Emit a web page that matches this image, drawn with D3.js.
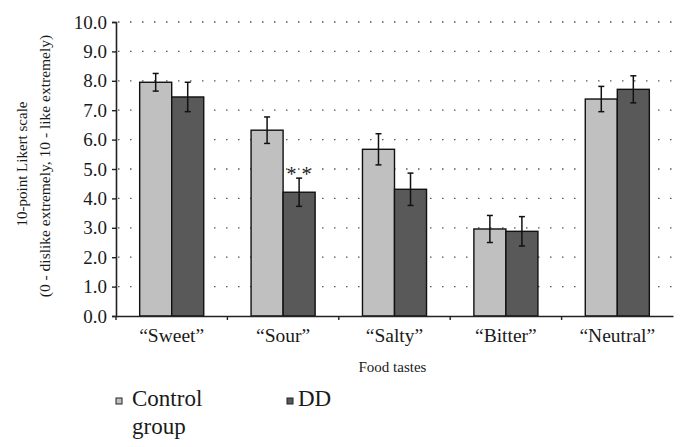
<!DOCTYPE html>
<html><head><meta charset="utf-8">
<script src="https://cdn.jsdelivr.net/npm/d3@7"></script>
<style>body{margin:0;background:#fff}svg{display:block}svg text{font-family:"Liberation Serif",serif;fill:#1a1a1a}</style>
</head><body><svg id="c" width="689" height="447" font-family="Liberation Serif"></svg>
<script>
const categories = ["\u201cSweet\u201d","\u201cSour\u201d","\u201cSalty\u201d","\u201cBitter\u201d","\u201cNeutral\u201d"];
const seriesNames = ["Control group","DD"];
const controlValues = [7.95, 6.32, 5.67, 2.96, 7.38];
const controlErrors = [0.30, 0.45, 0.53, 0.46, 0.43];
const ddValues = [7.45, 4.21, 4.31, 2.88, 7.71];
const ddErrors = [0.50, 0.48, 0.55, 0.50, 0.46];
const yTicks = [0,1,2,3,4,5,6,7,8,9,10];
const annotations = [{cat:1, series:1, text:"* *"}];
const colors = ["#c0c0c0","#595959"];

const svg = d3.select("#c");
const SERIF = '"Liberation Serif", serif';
const L=116, R=673, T=22, B=316;
const x = d3.scaleBand().domain(categories).range([L,R]);
const y = d3.scaleLinear().domain([0,10]).range([B,T]);
const barW = x.bandwidth()*0.2875;

svg.append("g").selectAll("line").data(yTicks.filter(d=>d>0)).join("line")
  .attr("x1",L+2).attr("x2",R).attr("y1",d=>y(d)).attr("y2",d=>y(d))
  .attr("stroke","#555").attr("stroke-width",1.3).attr("stroke-dasharray","1.5,10.5");

const series = [
  {vals:controlValues, errs:controlErrors},
  {vals:ddValues, errs:ddErrors}
];
series.forEach((s,si)=>{
  const g = svg.append("g");
  const data = categories.map((c,i)=>({c,v:s.vals[i],e:s.errs[i]}));
  const bx = d=>x(d.c)+x.bandwidth()/2 + (si===0?-barW:0);
  g.selectAll("rect").data(data).join("rect")
    .attr("x",bx).attr("width",barW)
    .attr("y",d=>y(d.v)).attr("height",d=>B-y(d.v))
    .attr("fill",colors[si]).attr("stroke","#111").attr("stroke-width",1.4);
  const eg = g.selectAll("g.err").data(data).join("g").attr("class","err");
  const cx = d=>bx(d)+barW/2;
  eg.append("line").attr("x1",cx).attr("x2",cx).attr("y1",d=>y(d.v+d.e)).attr("y2",d=>y(d.v-d.e))
    .attr("stroke","#111").attr("stroke-width",1.5);
  [1,-1].forEach(sg=>{
    eg.append("line").attr("x1",d=>cx(d)-3).attr("x2",d=>cx(d)+3)
      .attr("y1",d=>y(d.v+sg*d.e)).attr("y2",d=>y(d.v+sg*d.e))
      .attr("stroke","#111").attr("stroke-width",1.5);
  });
});

function serif(sel){ return sel.attr("font-family","Liberation Serif").style("font-family",SERIF); }

annotations.forEach(a=>{
  const s = series[a.series];
  const cx = x(categories[a.cat])+x.bandwidth()/2 + (a.series===0?-barW/2:barW/2);
  serif(svg.append("text")).attr("x",cx).attr("y",y(s.vals[a.cat]+s.errs[a.cat])+3)
    .attr("text-anchor","middle").attr("font-size",20).text(a.text);
});

const ya = d3.axisLeft(y).tickValues(yTicks).tickFormat(d3.format(".1f")).tickSize(4).tickPadding(5);
const yg = svg.append("g").attr("transform",`translate(${L},0)`).call(ya);
serif(yg);
yg.select(".domain").attr("stroke","#222").attr("stroke-width",1.6);
yg.selectAll(".tick line").attr("stroke","#222").attr("stroke-width",1.4);
serif(yg.selectAll(".tick text")).attr("font-size",19).attr("fill","#1a1a1a");

const xa = d3.axisBottom(x).tickSize(0).tickPadding(12);
const xg = svg.append("g").attr("transform",`translate(0,${B})`).call(xa);
serif(xg);
xg.select(".domain").attr("stroke","#222").attr("stroke-width",1.6);
serif(xg.selectAll(".tick text")).attr("font-size",19.5).attr("fill","#1a1a1a");
svg.append("g").selectAll("line").data(categories).join("line")
  .attr("x1",d=>x(d)).attr("x2",d=>x(d)).attr("y1",B).attr("y2",B+4)
  .attr("stroke","#222").attr("stroke-width",1.4);

serif(svg.append("text")).attr("transform","translate(27,164) rotate(-90)").attr("text-anchor","middle")
  .attr("font-size",15).text("10-point Likert scale");
serif(svg.append("text")).attr("transform","translate(50,166) rotate(-90)").attr("text-anchor","middle")
  .attr("font-size",15.5).text("(0 - dislike extremely, 10 - like extremely)");
serif(svg.append("text")).attr("x",(L+R)/2-2).attr("y",372).attr("text-anchor","middle")
  .attr("font-size",15).text("Food tastes");

const leg = [{x:116, lines:["Control","group"]},{x:287, lines:["DD"]}];
leg.forEach((l,i)=>{
  svg.append("rect").attr("x",l.x).attr("y",398).attr("width",6).attr("height",6)
    .attr("fill",colors[i]).attr("stroke","#222").attr("stroke-width",1);
  l.lines.forEach((ln,j)=>{
    serif(svg.append("text")).attr("x",l.x+(i===0?16:11)).attr("y",406+j*28)
      .attr("font-size",23).text(ln);
  });
});
</script></body></html>
